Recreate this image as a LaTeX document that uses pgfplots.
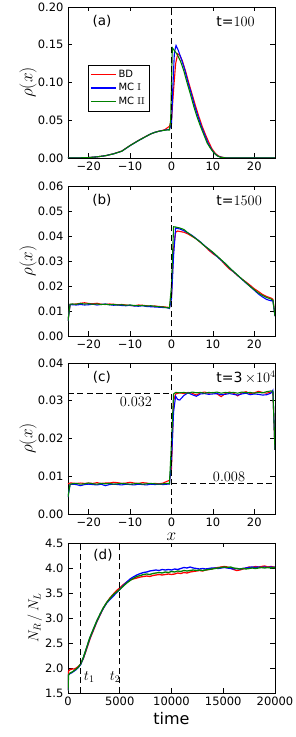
\documentclass[border=0pt]{standalone}
\usepackage[no-math]{fontspec}
\setmainfont{DejaVu Sans}
\usepackage{pgfplots}
\pgfplotsset{compat=1.18}
\definecolor{mred}{rgb}{1,0,0}
\definecolor{mblue}{rgb}{0,0,1}
\definecolor{mgreen}{rgb}{0,0.5,0}
\pgfplotsset{
  panel/.style={
    scale only axis, width=207pt, anchor=south west,
    scaled x ticks=false, scaled y ticks=false,
    axis line style={line width=0.9pt},
    tick style={line width=0.7pt, black},
    major tick length=4.5pt,
    tick align=inside,
    ticklabel style={font=\fontsize{11.5}{13}\selectfont},
    yticklabel style={xshift=-1pt},
    xmin=-25, xmax=25,
    xtick={-20,-10,0,10,20},
    xticklabels={−20,−10,0,10,20},
    ylabel={$\rho(x)$},
    ylabel style={at={(axis description cs:-0.193,0.5)}, anchor=center, font=\fontsize{16}{18}\selectfont},
    every axis plot/.append style={line width=1.1pt},
  },
  vdash/.style={black, line width=0.9pt, dash pattern=on 6pt off 3.5pt, forget plot},
}
\tikzset{
  plab/.style={font=\fontsize{13.5}{15}\selectfont},
  tlab/.style={font=\fontsize{14}{16}\selectfont, anchor=west},
}
\begin{document}
\begin{tikzpicture}
\path[use as bounding box] (0,0) rectangle (295pt,737pt);
% ---------------- (a)
\begin{axis}[panel, at={(68pt,579pt)}, height=151pt,
  ymin=0, ymax=0.2, ytick={0,0.05,0.1,0.15,0.2},
  yticklabels={0.00,0.05,0.10,0.15,0.20},
  legend style={at={(rel axis cs:0.097,0.616)}, anchor=north west, draw=black,
    font=\fontsize{10}{12}\selectfont, inner xsep=2pt, inner ysep=2.5pt, row sep=0.5pt, nodes={inner sep=2.2pt}},
  legend cell align=left,
  legend image code/.code={\draw[#1, line width=1.1pt] (3pt,0pt) -- (15pt,0pt); \path (0pt,0pt) -- (25pt,0pt);},
]
\addplot[mred] coordinates {(-25,0) (-22,0.0002) (-20,0.0006) (-18,0.0015) (-16,0.003) (-14,0.0056) (-12,0.0092) (-10,0.0166) (-8,0.0232) (-7,0.0262) (-6,0.0292) (-5,0.0318) (-4,0.034) (-3,0.0356) (-2,0.0368) (-1.5,0.038) (-1,0.040) (-0.5,0.042) (0,0.05) (0.5,0.09) (1,0.125) (1.5,0.138) (2,0.136) (2.6,0.129) (3.4,0.115) (4.2,0.099) (5,0.084) (5.8,0.069) (6.6,0.055) (7.4,0.042) (8.2,0.031) (9,0.021) (9.8,0.012) (10.6,0.006) (11.4,0.0025) (12.2,0.001) (13.2,0.0002) (25,0)};
\addlegendentry{BD}
\addplot[mblue] coordinates {(-25,0) (-22,0.0002) (-20,0.0006) (-18,0.0015) (-16,0.003) (-14,0.0055) (-12,0.009) (-10,0.0164) (-8,0.023) (-7,0.026) (-6,0.029) (-5,0.032) (-4,0.034) (-3,0.0355) (-2,0.0365) (-1,0.0375) (-0.5,0.038) (0,0.045) (0.3,0.09) (0.7,0.14) (1.1,0.149) (1.6,0.143) (2.4,0.131) (3.2,0.117) (4,0.1) (4.8,0.085) (5.6,0.069) (6.4,0.055) (7.2,0.042) (8,0.031) (8.8,0.02) (9.6,0.012) (10.4,0.006) (11.2,0.0025) (12,0.001) (13,0.0002) (25,0)};
\addlegendentry{MC $\mathrm{I}$}
\addplot[mgreen] coordinates {(-25,0) (-22,0.0002) (-20,0.0006) (-18,0.0015) (-16,0.003) (-14,0.0055) (-12,0.009) (-10,0.0165) (-8,0.023) (-7,0.026) (-6,0.029) (-5,0.032) (-4,0.034) (-3,0.0355) (-2,0.0365) (-1,0.0372) (-0.5,0.037) (-0.2,0.05) (0.2,0.146) (0.6,0.143) (1.4,0.137) (2.2,0.128) (3,0.115) (3.8,0.099) (4.6,0.084) (5.4,0.068) (6.2,0.054) (7,0.042) (7.8,0.031) (8.6,0.02) (9.4,0.013) (10.2,0.007) (11,0.003) (11.8,0.001) (13,0.0002) (25,0)};
\addlegendentry{MC $\mathrm{II}$}
\addplot[vdash] coordinates {(0,0) (0,0.2)};
\node[plab] at (rel axis cs:0.164,0.903) {(a)};
\node[tlab] at (rel axis cs:0.70,0.903) {t=$100$};
\end{axis}
% ---------------- (b)
\begin{axis}[panel, at={(68pt,401pt)}, height=150pt,
  ymin=0, ymax=0.06, ytick={0,0.01,0.02,0.03,0.04,0.05,0.06},
  yticklabels={0.00,0.01,0.02,0.03,0.04,0.05,0.06},
]
\addplot[mred] coordinates {(-25,0.006) (-24.5,0.0126) (-24,0.0127) (-23,0.0128) (-22,0.0131) (-21,0.0133) (-20,0.013) (-19,0.0129) (-18,0.0131) (-17,0.0127) (-16,0.0126) (-15,0.0128) (-14,0.0127) (-13,0.0125) (-12,0.0126) (-11,0.0124) (-10,0.0122) (-9,0.0121) (-8,0.0124) (-7,0.0123) (-6,0.0121) (-5,0.0119) (-4,0.0120) (-3,0.0118) (-2,0.0117) (-1,0.0115) (-0.5,0.0114) (0,0.016) (0.5,0.035) (1,0.0415) (1.5,0.042) (2,0.0418) (3,0.0415) (4,0.0408) (5,0.0398) (6,0.0388) (7,0.0374) (8,0.036) (9,0.0343) (10,0.0329) (11,0.0318) (12,0.0303) (13,0.0284) (14,0.0268) (15,0.0256) (16,0.0241) (17,0.0228) (18,0.0216) (19,0.0203) (20,0.0189) (21,0.0178) (22,0.0166) (23,0.0158) (24,0.0152) (24.5,0.0147) (25,0.008)};
\addplot[mblue] coordinates {(-25,0.006) (-24.5,0.0126) (-24,0.0125) (-23,0.0124) (-22,0.0126) (-21,0.0124) (-20,0.0125) (-19,0.0127) (-18,0.0124) (-17,0.0126) (-16,0.0128) (-15,0.0125) (-14,0.0123) (-13,0.0124) (-12,0.0122) (-11,0.0121) (-10,0.0123) (-9,0.0120) (-8,0.0119) (-7,0.0121) (-6,0.0118) (-5,0.0117) (-4,0.0116) (-3,0.0115) (-2,0.0114) (-1,0.0113) (-0.5,0.011) (0,0.015) (0.5,0.032) (1,0.0432) (2,0.0428) (3,0.0421) (4,0.0412) (5,0.0402) (6,0.0389) (7,0.0376) (8,0.0361) (9,0.0347) (10,0.0333) (11,0.0318) (12,0.0303) (13,0.0289) (14,0.0272) (15,0.0257) (16,0.0242) (17,0.0227) (18,0.0212) (19,0.0198) (20,0.0183) (21,0.0168) (22,0.0156) (23,0.0146) (24,0.0141) (24.5,0.0141) (25,0.008)};
\addplot[mgreen] coordinates {(-25,0.006) (-24.5,0.0127) (-24,0.0128) (-23,0.0127) (-22,0.013) (-21,0.0128) (-20,0.0129) (-19,0.0127) (-18,0.0128) (-17,0.0126) (-16,0.0127) (-15,0.0125) (-14,0.0126) (-13,0.0124) (-12,0.0125) (-11,0.0123) (-10,0.0124) (-9,0.0122) (-8,0.0121) (-7,0.0122) (-6,0.012) (-5,0.0121) (-4,0.0119) (-3,0.0117) (-2,0.0116) (-1,0.0113) (-0.5,0.0112) (0,0.02) (0.5,0.0437) (1,0.0436) (2,0.0432) (3,0.0426) (4,0.0412) (5,0.0400) (6,0.0388) (7,0.0375) (8,0.036) (9,0.0348) (10,0.0335) (11,0.032) (12,0.0305) (13,0.029) (14,0.0273) (15,0.0258) (16,0.0243) (17,0.0228) (18,0.0213) (19,0.0198) (20,0.0185) (21,0.0172) (22,0.0162) (23,0.0154) (24,0.0148) (24.5,0.0143) (25,0.008)};
\addplot[vdash] coordinates {(0,0) (0,0.06)};
\node[plab] at (rel axis cs:0.164,0.903) {(b)};
\node[tlab] at (rel axis cs:0.70,0.903) {t=$1500$};
\end{axis}
% ---------------- (c)
\begin{axis}[panel, at={(68pt,223pt)}, height=151pt,
  ymin=0, ymax=0.04, ytick={0,0.01,0.02,0.03,0.04},
  yticklabels={0.00,0.01,0.02,0.03,0.04},
  xlabel={$x$},
  xlabel style={at={(axis description cs:0.5,-0.148)}, anchor=center, inner sep=0pt, font=\fontsize{16}{18}\selectfont},
]
\addplot[mred] coordinates {(-25,0.008) (-24.5,0.0082) (-24,0.0082) (-23,0.0081) (-22,0.0082) (-21,0.0081) (-20,0.0082) (-19,0.0081) (-18,0.0083) (-17,0.0081) (-16,0.0082) (-15,0.0082) (-14,0.0084) (-13,0.0083) (-12,0.0081) (-11,0.0082) (-10,0.0084) (-9,0.0082) (-8,0.0081) (-7,0.0083) (-6,0.0082) (-5,0.0080) (-4,0.0081) (-3,0.0080) (-2,0.0082) (-1,0.0087) (-0.5,0.0089) (0,0.012) (0.5,0.030) (1,0.0318) (2,0.0321) (3,0.0319) (4,0.0322) (5,0.0320) (6,0.0315) (7,0.0321) (8,0.0323) (9,0.0320) (10,0.0322) (11,0.0318) (12,0.0311) (13,0.0319) (14,0.0323) (15,0.0320) (16,0.0313) (17,0.0321) (18,0.0324) (19,0.0319) (20,0.0321) (21,0.0325) (22,0.0322) (23,0.0320) (24,0.0323) (24.5,0.0322) (25,0.017)};
\addplot[mblue] coordinates {(-25,0.0045) (-24.5,0.0078) (-24,0.0079) (-23,0.0078) (-22,0.0075) (-21,0.0078) (-20,0.0079) (-19,0.0078) (-18,0.0077) (-17,0.0079) (-16,0.0075) (-15,0.0078) (-14,0.0079) (-13,0.0078) (-12,0.0077) (-11,0.0079) (-10,0.0078) (-9,0.0077) (-8,0.0079) (-7,0.0078) (-6,0.0077) (-5,0.0079) (-4,0.0078) (-3,0.0079) (-2,0.0078) (-1,0.0079) (-0.5,0.0079) (0,0.014) (0.5,0.027) (1,0.0312) (1.5,0.0303) (2,0.0302) (3,0.0314) (4,0.0321) (5,0.0316) (6,0.0312) (7,0.0318) (8,0.0319) (9,0.0317) (10,0.0318) (11,0.0319) (12,0.0316) (13,0.0317) (14,0.0319) (15,0.0317) (16,0.0315) (17,0.0318) (18,0.0320) (19,0.0316) (20,0.0318) (21,0.0317) (22,0.0315) (23,0.0316) (24,0.0320) (24.5,0.0328) (25,0.017)};
\addplot[mgreen] coordinates {(-25,0.0045) (-24.5,0.0079) (-24,0.0080) (-23,0.0081) (-22,0.0079) (-21,0.0080) (-20,0.0082) (-19,0.0080) (-18,0.0079) (-17,0.0081) (-16,0.0080) (-15,0.0081) (-14,0.0079) (-13,0.0080) (-12,0.0081) (-11,0.0080) (-10,0.0079) (-9,0.0080) (-8,0.0081) (-7,0.0079) (-6,0.0080) (-5,0.0081) (-4,0.0080) (-3,0.0079) (-2,0.0080) (-1,0.0081) (-0.5,0.0080) (0,0.019) (0.5,0.0318) (1,0.0322) (2,0.0321) (3,0.0322) (4,0.0320) (5,0.0323) (6,0.0321) (7,0.0322) (8,0.0320) (9,0.0322) (10,0.0321) (11,0.0323) (12,0.0320) (13,0.0322) (14,0.0321) (15,0.0322) (16,0.0320) (17,0.0323) (18,0.0321) (19,0.0322) (20,0.0320) (21,0.0322) (22,0.0321) (23,0.0324) (24,0.0326) (24.5,0.0325) (25,0.017)};
\addplot[vdash] coordinates {(0,0) (0,0.04)};
\addplot[vdash] coordinates {(-25,0.032) (0,0.032)};
\addplot[vdash] coordinates {(0,0.008) (25,0.008)};
\node[font=\fontsize{14}{16}\selectfont] at (axis cs:-8.6,0.0297) {$0.032$};
\node[font=\fontsize{14}{16}\selectfont] at (axis cs:13.9,0.0099) {$0.008$};
\node[plab] at (rel axis cs:0.164,0.903) {(c)};
\node[tlab] at (rel axis cs:0.70,0.903) {t=3\,$\times10^4$};
\end{axis}
% ---------------- (d)
\begin{axis}[panel, at={(68pt,44pt)}, height=150pt,
  xmin=0, xmax=20000, xtick={0,5000,10000,15000,20000},
  xticklabels={0,5000,10000,15000,20000},
  ymin=1.5, ymax=4.5, ytick={1.5,2,2.5,3,3.5,4,4.5},
  yticklabels={1.5,2.0,2.5,3.0,3.5,4.0,4.5},
  ylabel={$N_R\,/\,N_L$},
  ylabel style={at={(axis description cs:-0.16,0.5)}, anchor=center, font=\fontsize{14}{16}\selectfont},
  xlabel={time},
  xlabel style={at={(axis description cs:0.5,-0.167)}, anchor=center, font=\fontsize{16}{18}\selectfont},
  every axis plot/.append style={line width=1.3pt},
]
\addplot[mred] coordinates {(0,1.55) (30,1.93) (200,1.97) (400,1.98) (600,1.98) (800,2.00) (1000,2.03) (1225,2.08) (1500,2.20) (1800,2.38) (2100,2.57) (2450,2.75) (2800,2.93) (3100,3.06) (3400,3.19) (3740,3.31) (4050,3.40) (4390,3.48) (4700,3.55) (5000,3.60) (5300,3.66) (5680,3.72) (6000,3.76) (6300,3.78) (6650,3.80) (7000,3.82) (7300,3.83) (7610,3.84) (7900,3.83) (8200,3.85) (8500,3.86) (8800,3.87) (9100,3.86) (9400,3.87) (9700,3.88) (10000,3.87) (10300,3.88) (10600,3.90) (10900,3.89) (11200,3.91) (11500,3.90) (11800,3.92) (12100,3.93) (12400,3.94) (12700,3.95) (13000,3.94) (13300,3.96) (13600,3.97) (13900,3.98) (14200,4.00) (14500,4.01) (14800,4.02) (15100,4.03) (15400,4.02) (15700,4.00) (16000,3.97) (16300,3.95) (16600,3.96) (16900,3.98) (17200,4.00) (17500,4.02) (17800,4.01) (18100,4.03) (18400,4.02) (18700,4.03) (19000,4.04) (19300,4.02) (19600,4.03) (19900,4.02) (20000,4.01)};
\addplot[mblue] coordinates {(0,1.55) (30,1.86) (200,1.89) (400,1.91) (600,1.94) (800,1.97) (1000,2.01) (1225,2.07) (1500,2.21) (1800,2.40) (2100,2.59) (2450,2.77) (2800,2.94) (3100,3.07) (3400,3.19) (3740,3.30) (4050,3.37) (4390,3.44) (4700,3.51) (5000,3.57) (5300,3.64) (5680,3.72) (6000,3.78) (6300,3.82) (6650,3.86) (7000,3.89) (7300,3.91) (7610,3.92) (7900,3.94) (8200,3.95) (8500,3.96) (8800,3.95) (9100,3.97) (9400,3.96) (9700,3.97) (10000,3.96) (10300,3.98) (10600,3.97) (10900,3.99) (11200,4.01) (11500,4.00) (11800,4.02) (12100,4.00) (12400,3.99) (12700,3.98) (13000,3.99) (13300,3.98) (13600,3.99) (13900,4.00) (14200,4.00) (14500,3.99) (14800,4.00) (15100,4.01) (15400,4.00) (15700,3.99) (16000,3.98) (16300,3.99) (16600,3.98) (16900,3.99) (17200,4.00) (17500,4.01) (17800,4.02) (18100,4.01) (18400,4.02) (18700,4.01) (19000,4.02) (19300,4.01) (19600,4.02) (19900,4.01) (20000,4.02)};
\addplot[mgreen] coordinates {(0,1.55) (50,1.86) (200,1.90) (400,1.92) (600,1.95) (800,1.98) (1000,2.02) (1225,2.08) (1500,2.22) (1800,2.41) (2100,2.60) (2450,2.78) (2800,2.95) (3100,3.08) (3400,3.20) (3740,3.31) (4050,3.39) (4390,3.47) (4700,3.52) (5000,3.57) (5300,3.63) (5680,3.70) (6000,3.75) (6300,3.79) (6650,3.83) (7000,3.85) (7300,3.87) (7610,3.88) (7900,3.87) (8200,3.89) (8500,3.90) (8800,3.91) (9100,3.90) (9400,3.92) (9700,3.91) (10000,3.93) (10300,3.92) (10600,3.94) (10900,3.93) (11200,3.95) (11500,3.94) (11800,3.95) (12100,3.96) (12400,3.95) (12700,3.96) (13000,3.95) (13300,3.96) (13600,3.97) (13900,3.98) (14200,3.99) (14500,4.00) (14800,4.01) (15100,4.02) (15400,4.01) (15700,4.02) (16000,4.00) (16300,3.99) (16600,3.98) (16900,3.99) (17200,3.98) (17500,3.99) (17800,4.00) (18100,3.99) (18400,4.00) (18700,4.01) (19000,4.00) (19300,4.01) (19600,4.00) (19900,4.01) (20000,4.00)};
\addplot[vdash] coordinates {(1200,1.5) (1200,4.5)};
\addplot[vdash] coordinates {(5000,1.5) (5000,4.5)};
\node[font=\fontsize{14}{16}\selectfont] at (axis cs:2050,1.82) {$t_1$};
\node[font=\fontsize{14}{16}\selectfont] at (axis cs:4550,1.82) {$t_2$};
\node[plab] at (rel axis cs:0.169,0.915) {(d)};
\end{axis}
\end{tikzpicture}
\end{document}
